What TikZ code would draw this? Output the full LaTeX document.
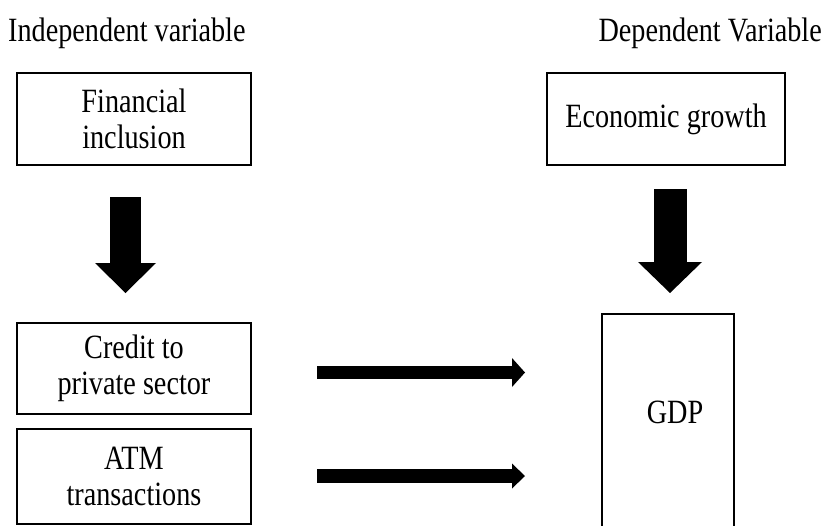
\documentclass[tikz,border=0pt]{standalone}
\usepackage{fontspec}
\setmainfont[FakeStretch=0.83]{Liberation Serif}
\usetikzlibrary{arrows.meta}
\tikzset{boxnode/.style={draw, line width=1.5pt, align=center, inner sep=0pt},
  headnode/.style={inner sep=0pt}}
\begin{document}
\begin{tikzpicture}[x=1pt, y=-1pt, font=\fontsize{34}{36}\selectfont]
        \clip (0,0) rectangle (824,525);
        \node[headnode, anchor=base west] (indep) at (8,41) {Independent variable};
        \node[headnode, anchor=base east] (dep) at (822,41) {Dependent Variable};

        \node[boxnode, minimum width=234pt, minimum height=92pt] (fin) at (134,119) {Financial\\inclusion};
        \node[boxnode, minimum width=238pt, minimum height=92pt] (econ) at (666,119) {Economic growth};
        \node[boxnode, minimum width=234pt, minimum height=91pt] (credit) at (134,368.5) {Credit to\\private sector};
        \node[boxnode, minimum width=234pt, minimum height=95pt] (atm) at (134,476.5) {ATM\\transactions};
        \node[boxnode, minimum width=132pt, minimum height=240pt, anchor=north] (gdp) at (668,313) {};
        \node[headnode] (gdplabel) at (675,412) {GDP};

        % block arrows
        \coordinate (a1) at (125.5,197);
        \coordinate (a2) at (125.5,293);
        \coordinate (b1) at (670,189);
        \coordinate (b2) at (670,293);
        \coordinate (c1) at (317,372.5);
        \coordinate (c2) at (525,372.5);
        \coordinate (d1) at (317,476);
        \coordinate (d2) at (525,476);
        \draw[line width=31pt, -{Triangle[width=61pt, length=30pt, line width=0pt]}] (a1) -- (a2);
        \draw[line width=33pt, -{Triangle[width=64pt, length=31pt, line width=0pt]}] (b1) -- (b2);
        \draw[line width=13pt, -{Triangle[width=29pt, length=13pt, line width=0pt]}] (c1) -- (c2);
        \draw[line width=14pt, -{Triangle[width=25pt, length=13pt, line width=0pt]}] (d1) -- (d2);
\end{tikzpicture}
\end{document}
